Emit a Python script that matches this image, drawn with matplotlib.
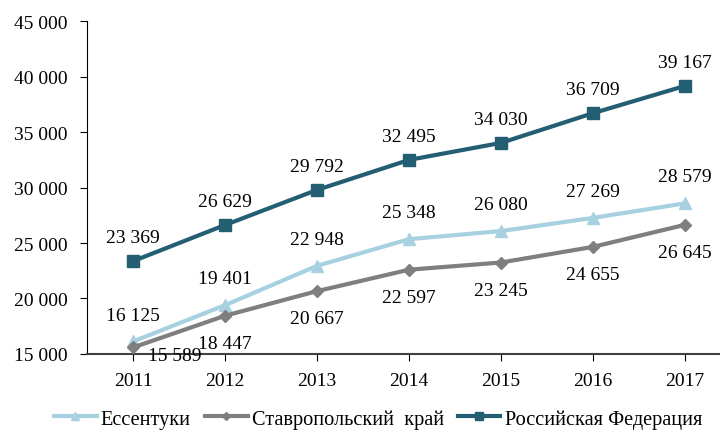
import matplotlib
matplotlib.use("Agg")
import matplotlib.pyplot as plt
from matplotlib.ticker import FuncFormatter

years = ["2011", "2012", "2013", "2014", "2015", "2016", "2017"]
essentuki = [16125, 19401, 22948, 25348, 26080, 27269, 28579]
stavropol = [15589, 18447, 20667, 22597, 23245, 24655, 26645]
russia = [23369, 26629, 29792, 32495, 34030, 36709, 39167]
names = ["Ессентуки", "Ставропольский  край", "Российская Федерация"]

plt.rcParams["font.family"] = ["Liberation Serif", "DejaVu Serif"]

fig = plt.figure(figsize=(7.2, 4.35), dpi=100)
ax = fig.add_axes([0.121, 0.184, 0.879, 0.765])
x = list(range(len(years)))

c_ess = "#A7D1E0"
c_sta = "#7F7F7F"
c_rus = "#245E73"

ax.plot(x, essentuki, color=c_ess, lw=3, marker="^", ms=9, label=names[0], zorder=3)
ax.plot(x, stavropol, color=c_sta, lw=3, marker="D", ms=6.5, label=names[1], zorder=3)
ax.plot(x, russia, color=c_rus, lw=3, marker="s", ms=8.5, label=names[2], zorder=3)

def fmt(v):
    return f"{v:,}".replace(",", " ")

fs = 14
for i, v in enumerate(essentuki):
    ax.annotate(fmt(v), (i, v), xytext=(0, 19), textcoords="offset points",
                ha="center", va="center", fontsize=fs)
for i, v in enumerate(stavropol):
    off = (30, -6) if i == 0 else (0, -20)
    ax.annotate(fmt(v), (i, v), xytext=off, textcoords="offset points",
                ha="center", va="center", fontsize=fs)
for i, v in enumerate(russia):
    ax.annotate(fmt(v), (i, v), xytext=(0, 17), textcoords="offset points",
                ha="center", va="center", fontsize=fs)

ax.set_ylim(15000, 45000)
ax.set_yticks(range(15000, 45001, 5000))
ax.yaxis.set_major_formatter(FuncFormatter(lambda v, p: fmt(int(v))))
ax.set_xlim(-0.5, 6.38)
ax.set_xticks(x)
ax.set_xticklabels(years)
ax.tick_params(axis="both", labelsize=fs, colors="black", length=5)
ax.tick_params(axis="x", pad=8)
ax.tick_params(axis="y", pad=9)
for s in ["top", "right"]:
    ax.spines[s].set_visible(False)
ax.spines["left"].set_color("black")
ax.spines["bottom"].set_color("#404040")
ax.spines["bottom"].set_linewidth(1.5)

fig.legend(loc="center", bbox_to_anchor=(0.525, 0.035), ncol=3, frameon=False,
           fontsize=14.6, handlelength=2.1, columnspacing=0.7, handletextpad=0.2,
           markerscale=0.6)

fig.savefig("out.png", dpi=100)
